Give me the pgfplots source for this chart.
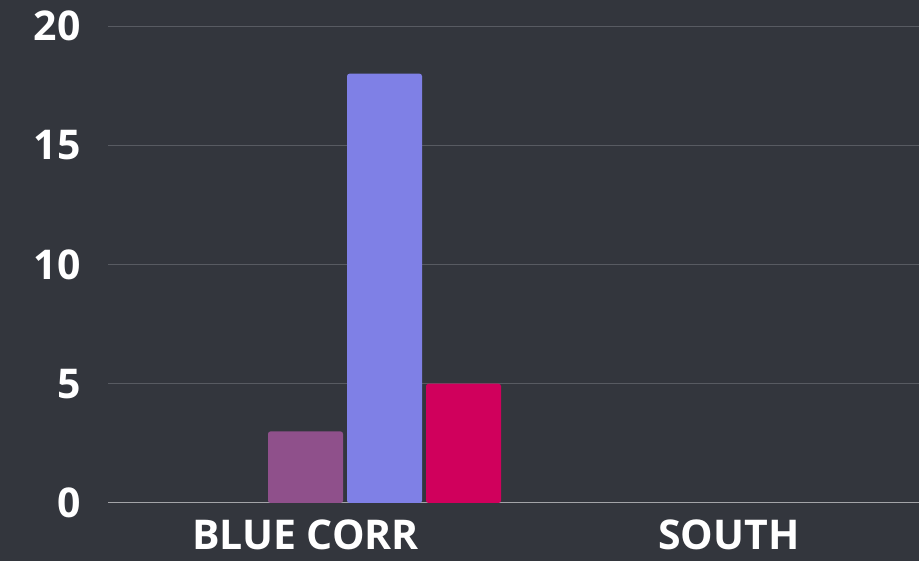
\documentclass[border=0pt]{standalone}
\usepackage{pgfplots}
\pgfplotsset{compat=1.18}
\usepackage{fontspec}
\setmainfont{Open Sans}

\definecolor{bg}{HTML}{33363D}
\definecolor{gridc}{HTML}{585B62}
\definecolor{basec}{HTML}{A3A4A8}
\definecolor{cpurple}{HTML}{8F508B}
\definecolor{cblue}{HTML}{7F80E6}
\definecolor{cred}{HTML}{D0005C}

\begin{document}
\begin{tikzpicture}[x=1pt,y=1pt]
\fill[bg] (0,0) rectangle (919,561);
\begin{axis}[
    at={(108pt,58pt)}, anchor=south west,
    scale only axis, width=811pt, height=477pt,
    xmin=-0.4664, xmax=1.4486,
    ymin=0, ymax=20,
    xtick={0,1}, xticklabels={BLUE CORR,SOUTH},
    ytick={5,10,15,20},
    axis line style={draw=none},
    tick style={draw=none},
    ymajorgrids, major grid style={gridc, line width=0.9pt},
    extra y ticks={0},
    extra y tick style={major grid style={basec, line width=1pt}},
    /pgf/number format/assume math mode=true,
    tick label style={white, font=\fontsize{41}{41}\selectfont\bfseries},
    yticklabel style={anchor=east, xshift=-24pt},
    xticklabel style={anchor=north, yshift=-13pt},
    bar width=75pt,
    clip=false,
    ]
    % BLUE CORR only; SOUTH has no bars
    \addplot[ybar, bar shift=0pt, fill=cpurple, draw=none, rounded corners=2.5pt] coordinates {(0,3)};
    \addplot[ybar, bar shift=79pt, fill=cblue, draw=none, rounded corners=2.5pt] coordinates {(0,18)};
    \addplot[ybar, bar shift=158pt, fill=cred, draw=none, rounded corners=2.5pt] coordinates {(0,5)};
\end{axis}
\pgfresetboundingbox
\useasboundingbox (0,0) rectangle (919,561);
\end{tikzpicture}
\end{document}
